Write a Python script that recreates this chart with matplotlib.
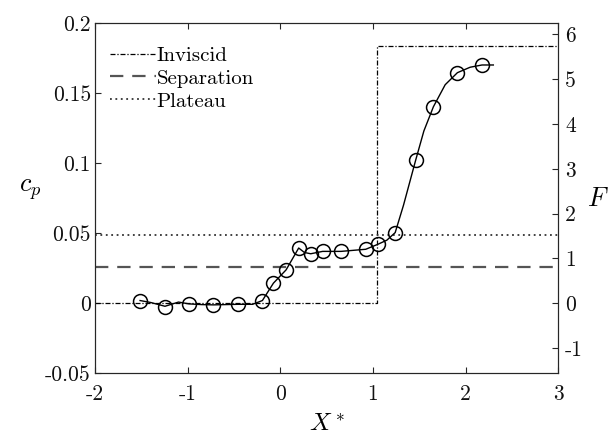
import matplotlib
matplotlib.use("Agg")
import matplotlib.pyplot as plt

plt.rcParams['font.family'] = 'serif'
plt.rcParams['font.serif'] = ['cmr10', 'DejaVu Serif']
plt.rcParams['mathtext.fontset'] = 'cm'
plt.rcParams['axes.unicode_minus'] = False
plt.rcParams['axes.formatter.use_mathtext'] = True

# Data
circ_x = [-1.515, -1.246, -0.986, -0.724, -0.461, -0.194, -0.075, 0.062, 0.198,
          0.328, 0.457, 0.655, 0.922, 1.051, 1.24, 1.462, 1.653, 1.912, 2.178]
circ_cp = [0.0019, -0.0029, -0.0005, -0.0012, -0.0005, 0.0019, 0.0143, 0.0238, 0.0394,
           0.0353, 0.0370, 0.0370, 0.0385, 0.0420, 0.0504, 0.1023, 0.1403, 0.1646, 0.1701]

line_x = [-1.515, -1.40, -1.246, -1.10, -0.986, -0.85, -0.724, -0.461, -0.30, -0.194,
          -0.075, 0.062, 0.198, 0.26, 0.328, 0.457, 0.655, 0.922, 1.051, 1.15, 1.24,
          1.33, 1.462, 1.55, 1.653, 1.78, 1.912, 2.05, 2.178, 2.30]
line_cp = [0.0019, 0.0005, -0.0022, 0.0008, -0.0005, -0.0010, -0.0012, -0.0008, -0.0008, 0.0019,
           0.0143, 0.0238, 0.0394, 0.0362, 0.0353, 0.0370, 0.0370, 0.0385, 0.0420, 0.0450, 0.0504,
           0.0700, 0.1023, 0.1230, 0.1403, 0.1560, 0.1646, 0.1685, 0.1701, 0.1701]

inv_x = [-2, 1.04, 1.04, 3]
inv_cp = [0, 0, 0.184, 0.184]
separation_cp = 0.026
plateau_cp = 0.049

xticks = [-2, -1, 0, 1, 2, 3]
xticklabels = ['-2', '-1', '0', '1', '2', '3']
yticks = [-0.05, 0, 0.05, 0.1, 0.15, 0.2]
yticklabels = ['-0.05', '0', '0.05', '0.1', '0.15', '0.2']
fticks = [-1, 0, 1, 2, 3, 4, 5, 6]
fticklabels = ['-1', '0', '1', '2', '3', '4', '5', '6']
F_scale = 0.032

fig = plt.figure(figsize=(6.1, 4.36), dpi=100)
ax = fig.add_axes([0.156, 0.144, 0.759, 0.803])
axc = '#262626'

ax.plot(inv_x, inv_cp, color='black', lw=0.9, linestyle=(0, (4, 1.5, 1, 1.5)), label='Inviscid')
ax.axhline(separation_cp, color='#555555', lw=1.6, linestyle=(0, (6, 4)), label='Separation')
ax.axhline(plateau_cp, color='#333333', lw=1.3, linestyle=(0, (1, 2)), label='Plateau')
ax.plot(line_x, line_cp, color='black', lw=1.0)
ax.plot(circ_x, circ_cp, linestyle='none', marker='o', markersize=10,
        markerfacecolor='none', markeredgecolor='black', markeredgewidth=1.1)

ax.set_xlim(-2, 3)
ax.set_ylim(-0.05, 0.2)
ax.set_xticks(xticks)
ax.set_xticklabels(xticklabels)
ax.set_yticks(yticks)
ax.set_yticklabels(yticklabels)
ax.tick_params(axis='x', direction='in', top=True, length=4, width=0.8, colors=axc,
               labelsize=15.5, pad=8, labelcolor='#111111')
ax.tick_params(axis='y', direction='in', right=False, length=4, width=0.8, colors=axc,
               labelsize=15.5, pad=3, labelcolor='#111111')
for s in ax.spines.values():
    s.set_color(axc)
    s.set_linewidth(0.8)

ax2 = ax.twinx()
ax2.set_ylim(-0.05 / F_scale, 0.2 / F_scale)
ax2.set_yticks(fticks)
ax2.set_yticklabels(fticklabels)
ax2.tick_params(axis='y', direction='in', length=4, width=0.8, colors=axc,
                labelsize=15.5, pad=5, labelcolor='#111111')
for s in ax2.spines.values():
    s.set_color(axc)
    s.set_linewidth(0.8)

ax.set_xlabel('$X^*$', fontsize=18)
ax.xaxis.set_label_coords(0.5, -0.115)
ax.set_ylabel('$c_p$', fontsize=19, rotation=0)
ax.yaxis.set_label_coords(-0.14, 0.49)
ax2.set_ylabel('$F$', fontsize=19, rotation=0)
ax2.yaxis.set_label_coords(1.085, 0.53)

leg = ax.legend(loc='upper left', frameon=False, fontsize=15, handlelength=2.2,
                handletextpad=0.05, labelspacing=0.2, borderaxespad=0.3,
                bbox_to_anchor=(0.0, 0.975))

fig.savefig('out.png', dpi=100)
